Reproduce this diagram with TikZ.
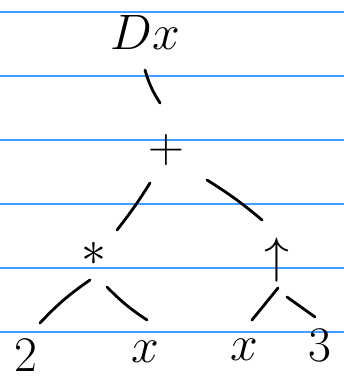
\documentclass[tikz,border=0pt]{standalone}
\usepackage{graphicx}
\usepackage{tikz}
\usetikzlibrary{calc}
\definecolor{ruleblue}{RGB}{66,158,255}
\newcommand{\handtext}[1]{\scalebox{2}{$#1$}}
\begin{document}
\begin{tikzpicture}[x=1pt,y=-1pt,
		term/.style={font=\Huge, inner sep=5pt},
		branch/.style={line width=2.8pt, line cap=round},
		rule/.style={draw=ruleblue, line width=1.2pt}
		]

		\useasboundingbox (0,0) rectangle (344,381);

		% ruled paper
		\foreach \y in {12,76,140,204,268,332}
			\draw[rule] (0,\y) -- (344,\y);

		% the tree
		\node[term] (dx) at (145,32) {\handtext{Dx}};
		\node[term] (plus) at (166,150) {\handtext{+}};
		\node[term] (times) at (94,254) {\handtext{\ast}};
		\node[term] (power) at (277,260) {\handtext{\uparrow}};
		\node[term] (two) at (26,355) {\handtext{2}};
		\node[term] (xa) at (145,352) {\handtext{x}};
		\node[term] (xb) at (244,350) {\handtext{x}};
		\node[term] (three) at (320,345) {\handtext{3}};

		% branches, short strokes between the terms
		\draw[branch] ($(dx)+(0,38)$) to[bend right=8] ($(plus)+(-6,-47)$);
		\draw[branch] ($(plus)+(-16,33)$) to[bend left=3] ($(times)+(23,-24)$);
		\draw[branch] ($(plus)+(41,30)$) to[bend left=4] ($(power)+(-15,-40)$);
		\draw[branch] ($(times)+(-4,26)$) to[bend right=6] ($(two)+(14,-32)$);
		\draw[branch] ($(times)+(13,33)$) to[bend right=6] ($(xa)+(2,-32)$);
		\draw[branch] ($(power)+(1,28)$) -- ($(xb)+(8,-30)$);
		\draw[branch] ($(power)+(10,37)$) -- ($(three)+(-5,-28)$);
	\end{tikzpicture}
\end{document}
